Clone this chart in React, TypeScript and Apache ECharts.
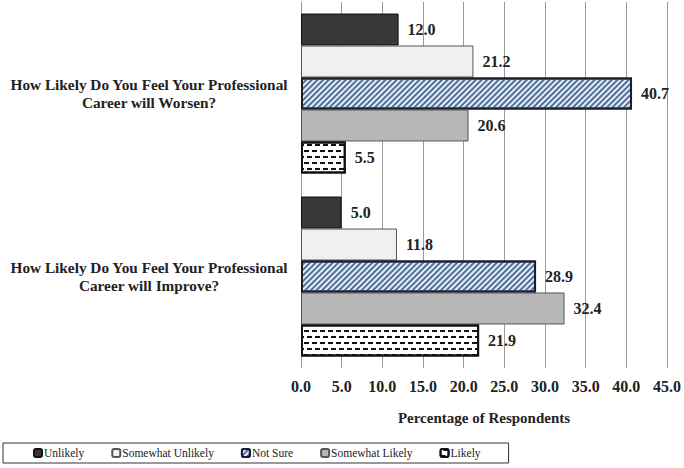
import React, { useEffect, useRef } from "react";
import * as echarts from "echarts";

const categories = [
  "How Likely Do You Feel Your Professional\nCareer will Worsen?",
  "How Likely Do You Feel Your Professional\nCareer will Improve?",
];
const seriesNames = ["Unlikely", "Somewhat Unlikely", "Not Sure", "Somewhat Likely", "Likely"];
const unlikely = [12.0, 5.0];
const somewhatUnlikely = [21.2, 11.8];
const notSure = [40.7, 28.9];
const somewhatLikely = [20.6, 32.4];
const likely = [5.5, 21.9];
const xTicks = { min: 0, max: 45, interval: 5 };

const FONT = "Times New Roman, Liberation Serif, DejaVu Serif, serif";

export default function App() {
  const ref = useRef<HTMLDivElement>(null);
  useEffect(() => {
    if (!ref.current) return;
    const chart = echarts.init(ref.current, null, { renderer: "svg" });
    const values = [unlikely, somewhatUnlikely, notSure, somewhatLikely, likely];
    const styles: any[] = [
      { color: "#383838", borderColor: "#111", borderWidth: 1 },
      { color: "#f0f0f0", borderColor: "#555", borderWidth: 1 },
      {
        color: "#e8eef5",
        borderColor: "#1a1f2e",
        borderWidth: 2,
        decal: {
          symbol: "rect",
          symbolSize: 1,
          color: "#4f6f9c",
          dashArrayX: [1, 0],
          dashArrayY: [1.2, 1.3],
          rotation: -Math.PI / 4,
        },
      },
      { color: "#b7b7b7", borderColor: "#555", borderWidth: 1 },
      {
        color: "#ffffff",
        borderColor: "#111",
        borderWidth: 2,
        decal: {
          symbol: "rect",
          symbolSize: 1,
          color: "#111",
          dashArrayX: [[5, 3], [0, 3, 5, 0]],
          dashArrayY: [2, 4],
          rotation: 0,
        },
      },
    ];
    chart.setOption({
      animation: false,
      textStyle: { fontFamily: FONT },
      grid: { left: 301, right: 16, top: 2, bottom: 100, containLabel: false },
      xAxis: {
        type: "value",
        min: xTicks.min,
        max: xTicks.max,
        interval: xTicks.interval,
        name: "Percentage of Respondents",
        nameLocation: "middle",
        nameGap: 42,
        nameTextStyle: { fontFamily: FONT, fontWeight: "bold", fontSize: 15, color: "#222" },
        axisLine: { show: false },
        axisTick: { show: false },
        axisLabel: {
          fontFamily: FONT,
          fontWeight: "bold",
          fontSize: 16,
          color: "#222",
          margin: 10,
          formatter: (v: number) => v.toFixed(1),
        },
        splitLine: { show: true, lineStyle: { color: "#9a9a9a", width: 1 } },
      },
      yAxis: {
        type: "category",
        data: categories,
        inverse: true,
        axisLine: { show: true, lineStyle: { color: "#9a9a9a" } },
        axisTick: { show: false },
        axisLabel: {
          fontFamily: FONT,
          fontWeight: "bold",
          fontSize: 15.3,
          color: "#222",
          align: "center",
          margin: 152,
          lineHeight: 18,
        },
      },
      legend: {
        left: 3,
        top: 443,
        data: seriesNames,
        itemWidth: 8,
        itemHeight: 8,
        itemGap: 27,
        padding: [4, 28, 4, 30],
        borderColor: "#333",
        borderWidth: 1,
        textStyle: { fontFamily: FONT, fontSize: 11.5, color: "#222", padding: [0, 0, 0, -3] },
      },
      series: seriesNames.map((name, i) => ({
        name,
        type: "bar",
        data: values[i],
        barCategoryGap: "12.6%",
        barGap: "0%",
        itemStyle: styles[i],
        label: {
          show: true,
          position: "right",
          distance: 9,
          fontFamily: FONT,
          fontWeight: "bold",
          fontSize: 16,
          color: "#222",
          formatter: (p: any) => Number(p.value).toFixed(1),
        },
      })),
    });
    return () => chart.dispose();
  }, []);
  return <div ref={ref} style={{ width: 684, height: 468, position: "absolute", left: 0, top: 0 }} />;
}
